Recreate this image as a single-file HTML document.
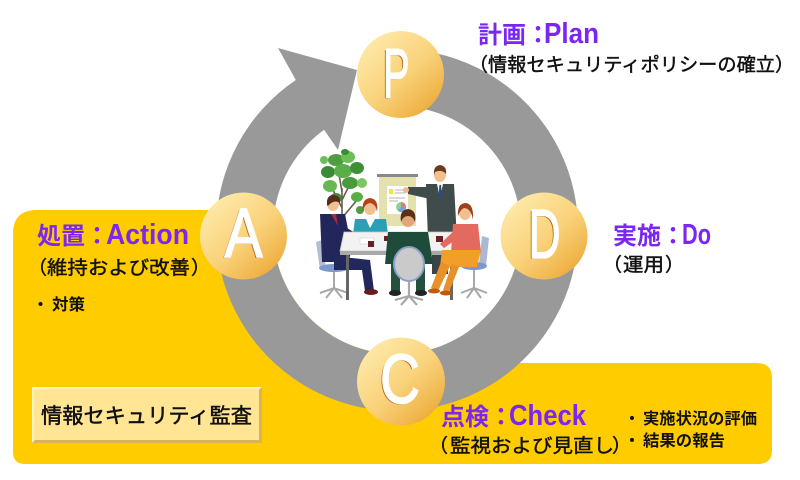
<!DOCTYPE html>
<html><head><meta charset="utf-8"><style>
html,body{margin:0;padding:0;background:#fff;}
svg{display:block;}
text{font-family:"Liberation Sans","Noto Sans CJK JP",sans-serif;}
.t{font-size:24px;font-weight:bold;fill:#7b26f2;}
.tl{font-size:29px;font-weight:bold;fill:#7b26f2;}
.s{font-size:19px;fill:#111;stroke:#111;stroke-width:0.45;}
.b{font-size:16px;font-weight:bold;fill:#111;}
.L{font-family:"Liberation Sans",sans-serif;font-size:70px;}
</style></head><body>
<svg width="800" height="480" viewBox="0 0 800 480" xmlns="http://www.w3.org/2000/svg">
<defs>
<linearGradient id="g" x1="0.15" y1="0.1" x2="0.9" y2="0.95">
<stop offset="0" stop-color="#fee9a8"/><stop offset="0.5" stop-color="#f9d27a"/><stop offset="0.85" stop-color="#f0b54a"/><stop offset="1" stop-color="#e69f35"/>
</linearGradient>
</defs>
<rect width="800" height="480" fill="#fff"/>
<!-- yellow background -->
<path d="M13 234 Q13 210 37 210 L420 210 L420 363 L757 363 Q772 363 772 378 L772 450 Q772 464 758 464 L25 464 Q13 464 13 452 Z" fill="#ffcc00"/>
<!-- inner white circle -->
<circle cx="397" cy="230" r="124" fill="#fff"/>
<!-- ring with arrow -->
<path d="M381.2 49.7 A181 181 0 1 1 295.8 80 L278 48 L357 70 L338 150 L324.1 129.7 A124 124 0 1 0 386.2 106.5 Z" fill="#999999"/>

<!-- clipart -->
<g>
<path d="M342 248 L342 188 M342 208 L331 186 M342 200 L353 178 M342 218 L357 200 M342 192 L338 168" stroke="#6d5c50" stroke-width="1.6" fill="none"/>
<ellipse cx="336" cy="160" rx="8" ry="6" fill="#4f9d3f"/>
<ellipse cx="348" cy="157" rx="7" ry="6" fill="#6bbf55"/>
<ellipse cx="328" cy="172" rx="7" ry="6" fill="#3c8a34"/>
<ellipse cx="343" cy="171" rx="9" ry="7" fill="#5aae48"/>
<ellipse cx="357" cy="168" rx="7" ry="6" fill="#3f8f36"/>
<ellipse cx="330" cy="186" rx="7" ry="6" fill="#67b852"/>
<ellipse cx="350" cy="183" rx="8" ry="6" fill="#4a9a3e"/>
<ellipse cx="362" cy="183" rx="5" ry="5" fill="#7cc664"/>
<ellipse cx="336" cy="198" rx="6" ry="5" fill="#3d8b35"/>
<ellipse cx="357" cy="197" rx="6" ry="5" fill="#5aae48"/>
<ellipse cx="324" cy="160" rx="4" ry="4" fill="#6bbf55"/>
<ellipse cx="345" cy="152" rx="4" ry="3" fill="#3c8a34"/>
<ellipse cx="360" cy="210" rx="4" ry="4" fill="#4f9d3f"/>
<rect x="379" y="176" width="37" height="50" fill="#e4e1ae"/>
<rect x="377" y="174" width="41" height="3" fill="#8a8a8a"/>
<rect x="387" y="186" width="21" height="28" fill="#fff"/>
<rect x="389" y="189" width="4" height="5" fill="#f2e640"/>
<path d="M395 190 H405 M395 193 H405 M389 198 H405 M389 201 H398" stroke="#9a9a9a" stroke-width="0.8"/>
<circle cx="401" cy="207" r="5" fill="#8fcf8f"/>
<path d="M401 207 L401 202 A5 5 0 0 1 406 207 Z" fill="#e07a7a"/>
<path d="M401 207 L406 207 A5 5 0 0 1 398 211 Z" fill="#7aa0e0"/>
<rect x="432" y="232" width="16" height="42" fill="#3b4444"/>
<path d="M426 184 L454 184 L457 240 L428 240 Z" fill="#404b4b"/>
<path d="M428 187 L408 187 L408 194 L430 199 Z" fill="#404b4b"/>
<circle cx="406" cy="190" r="3" fill="#f0b88a"/>
<path d="M437 184 L443 184 L440 198 Z" fill="#fff"/>
<path d="M439.4 185 L441 185 L442 196 L440.2 199 L438.6 196 Z" fill="#2a4a8a"/>
<ellipse cx="440" cy="175" rx="6" ry="7" fill="#f0c090"/>
<path d="M434 175 Q433 166 440 165 Q447 166 446 174 Q442 169 435 172 Z" fill="#6a3a1a"/>
<path d="M355 219 L386 219 L389 242 L352 242 Z" fill="#2a9fb5"/>
<path d="M366 219 L375 219 L370 228 Z" fill="#fff"/>
<ellipse cx="370" cy="208" rx="6" ry="7" fill="#f0c090"/>
<path d="M363 212 Q361 199 370 198 Q379 199 377 212 Q376 204 370 203 Q364 204 363 212 Z" fill="#b5401a"/>
<path d="M316 242 L322 240 L326 268 L320 270 Z" fill="#b4bfd0"/>
<ellipse cx="334" cy="268" rx="15" ry="4" fill="#7e99c9"/>
<path d="M334 272 V288 M320 293 L334 288 L348 293 M326 298 L334 288 L342 298" stroke="#a8a8a8" stroke-width="2" fill="none"/>
<path d="M320 214 L345 214 L352 250 L348 262 L322 262 Z" fill="#22265a"/>
<path d="M340 224 L364 238 L361 245 L337 236 Z" fill="#22265a"/>
<circle cx="364" cy="242" r="3" fill="#f0c090"/>
<path d="M334 256 L370 260 L374 291 L365 291 L362 270 L334 270 Z" fill="#23285c"/>
<ellipse cx="371" cy="292" rx="7" ry="3" fill="#6a1a1a"/>
<path d="M331 214 L336 214 L338 226 Z" fill="#b02a3a"/>
<ellipse cx="333" cy="204" rx="6" ry="7" fill="#f0c090"/>
<path d="M327 205 Q326 195 334 195 Q341 196 340 203 Q334 199 328 206 Z" fill="#5a2a1a"/>
<path d="M344 232 L457 232 L462 251 L340 251 Z" fill="#f2f2f2" stroke="#c6c6c6" stroke-width="0.8"/>
<rect x="340" y="251" width="122" height="4" fill="#a9a9a9"/>
<rect x="346" y="255" width="3" height="45" fill="#666"/>
<rect x="450" y="255" width="3" height="45" fill="#666"/>
<rect x="360" y="238" width="14" height="6" fill="#fff" stroke="#ccc" stroke-width="0.5"/>
<rect x="368" y="241" width="6" height="6" fill="#6a2020"/>
<rect x="384" y="236" width="6" height="5" fill="#6a2020"/>
<rect x="436" y="236" width="7" height="6" fill="#6a2020"/>
<path d="M482 236 L489 238 L486 266 L479 264 Z" fill="#aab8d0"/>
<ellipse cx="474" cy="266" rx="13" ry="4" fill="#7e99c9"/>
<path d="M474 270 V288 M461 293 L474 288 L487 293 M467 298 L474 288 L481 298" stroke="#a8a8a8" stroke-width="2" fill="none"/>
<path d="M453 224 L478 224 L481 253 L451 253 Z" fill="#e36a5f"/>
<path d="M455 230 L440 244 L444 248 L458 238 Z" fill="#e36a5f"/>
<path d="M442 250 L481 250 L477 267 L440 267 Z" fill="#f0a028"/>
<path d="M441 262 L431 288 L438 291 L450 266 Z" fill="#e8902a"/>
<path d="M452 264 L443 290 L449 292 L459 267 Z" fill="#e8902a"/>
<ellipse cx="434" cy="291" rx="6" ry="2.5" fill="#c05a10"/>
<ellipse cx="446" cy="293" rx="6" ry="2.5" fill="#c05a10"/>
<ellipse cx="465" cy="213" rx="6" ry="7" fill="#f0c090"/>
<path d="M458 216 Q457 203 466 203 Q474 204 473 220 Q471 208 464 208 Q460 210 458 216 Z" fill="#a0401a"/>
<rect x="391" y="262" width="9" height="30" fill="#24503c"/>
<rect x="416" y="262" width="9" height="30" fill="#24503c"/>
<ellipse cx="395" cy="293" rx="6" ry="3" fill="#222"/>
<ellipse cx="421" cy="293" rx="6" ry="3" fill="#222"/>
<path d="M388 232 L428 232 L433 264 L385 264 Z" fill="#1f4c3a"/>
<ellipse cx="408" cy="219" rx="7" ry="8" fill="#e0a878"/>
<path d="M401 222 Q399 210 408 209 Q417 210 415 222 Q413 216 408 216 Q403 216 401 222 Z" fill="#5a3018"/>
<ellipse cx="409" cy="264" rx="15" ry="17" fill="#cacaca" stroke="#8aa0c8" stroke-width="2"/>
<path d="M409 281 V296 M395 300 L409 296 L423 300 M401 305 L409 296 L417 305" stroke="#a8a8a8" stroke-width="2.2" fill="none"/>
</g>

<!-- circles -->
<circle cx="400.5" cy="74.5" r="43.5" fill="url(#g)"/>
<circle cx="544" cy="236" r="43.5" fill="url(#g)"/>
<circle cx="401" cy="381.5" r="44" fill="url(#g)"/>
<circle cx="243.5" cy="236" r="43.5" fill="url(#g)"/>

<!-- letters -->
<g class="L" fill="#b86a22">
<text x="381.6" y="98.2" textLength="26.5" lengthAdjust="spacingAndGlyphs">P</text>
<text x="527.1" y="259.2" textLength="32" lengthAdjust="spacingAndGlyphs">D</text>
<text x="378.6" y="404.2" textLength="40" lengthAdjust="spacingAndGlyphs">C</text>
<text x="223.1" y="258.2" textLength="38" lengthAdjust="spacingAndGlyphs">A</text>
</g>
<g class="L" fill="#fff" stroke="#fff" stroke-width="1.6">
<text x="383" y="97" textLength="26.5" lengthAdjust="spacingAndGlyphs">P</text>
<text x="528.5" y="258" textLength="32" lengthAdjust="spacingAndGlyphs">D</text>
<text x="380" y="403" textLength="40" lengthAdjust="spacingAndGlyphs">C</text>
<text x="224.5" y="257" textLength="38" lengthAdjust="spacingAndGlyphs">A</text>
</g>

<!-- Plan -->
<text class="t" x="478" y="43">計画：</text>
<text class="tl" x="544" y="43" textLength="55" lengthAdjust="spacingAndGlyphs">Plan</text>
<text class="s" x="469" y="71">（</text>
<text class="s" x="488" y="71" textLength="287" lengthAdjust="spacingAndGlyphs">情報セキュリティポリシーの確立</text>
<text class="s" x="775" y="71">）</text>

<!-- Do -->
<text class="t" x="613" y="244">実施：</text>
<text class="tl" x="682" y="244" textLength="29" lengthAdjust="spacingAndGlyphs">Do</text>
<text class="s" x="603" y="271">（</text>
<text class="s" x="623" y="271" textLength="41" lengthAdjust="spacingAndGlyphs">運用</text>
<text class="s" x="665" y="271">）</text>

<!-- Action -->
<text class="t" x="37" y="244">処置：</text>
<text class="tl" x="106" y="244" textLength="83" lengthAdjust="spacingAndGlyphs">Action</text>
<text class="s" x="28" y="274">（</text>
<text class="s" x="47" y="274" textLength="143" lengthAdjust="spacingAndGlyphs">維持および改善</text>
<text class="s" x="191" y="274">）</text>
<text class="b" x="32.5" y="310">・</text>
<text class="b" x="52" y="310" textLength="33" lengthAdjust="spacingAndGlyphs">対策</text>

<!-- Check -->
<text class="t" x="441" y="425">点検：</text>
<text class="tl" x="509" y="425" textLength="77" lengthAdjust="spacingAndGlyphs">Check</text>
<text class="s" x="429" y="452">（</text>
<text class="s" x="450" y="452" textLength="164" lengthAdjust="spacingAndGlyphs">監視および見直し</text>
<text class="s" x="612" y="452">）</text>
<text class="b" x="624" y="424">・</text>
<text class="b" x="643" y="424" textLength="114" lengthAdjust="spacingAndGlyphs">実施状況の評価</text>
<text class="b" x="624" y="446">・</text>
<text class="b" x="643" y="446" textLength="82" lengthAdjust="spacingAndGlyphs">結果の報告</text>

<!-- audit button -->
<rect x="32" y="387" width="230" height="56" fill="#ffe594"/>
<path d="M32 387 H262 L260 389 H34 V441 L32 443 Z" fill="#fff3c4"/>
<path d="M262 387 V443 H32 L35 440 H259 V390 Z" fill="#d8b454"/>
<text x="41" y="423" font-size="21" fill="#111" stroke="#111" stroke-width="0.5" textLength="211" lengthAdjust="spacingAndGlyphs">情報セキュリティ監査</text>
</svg>
</body></html>
